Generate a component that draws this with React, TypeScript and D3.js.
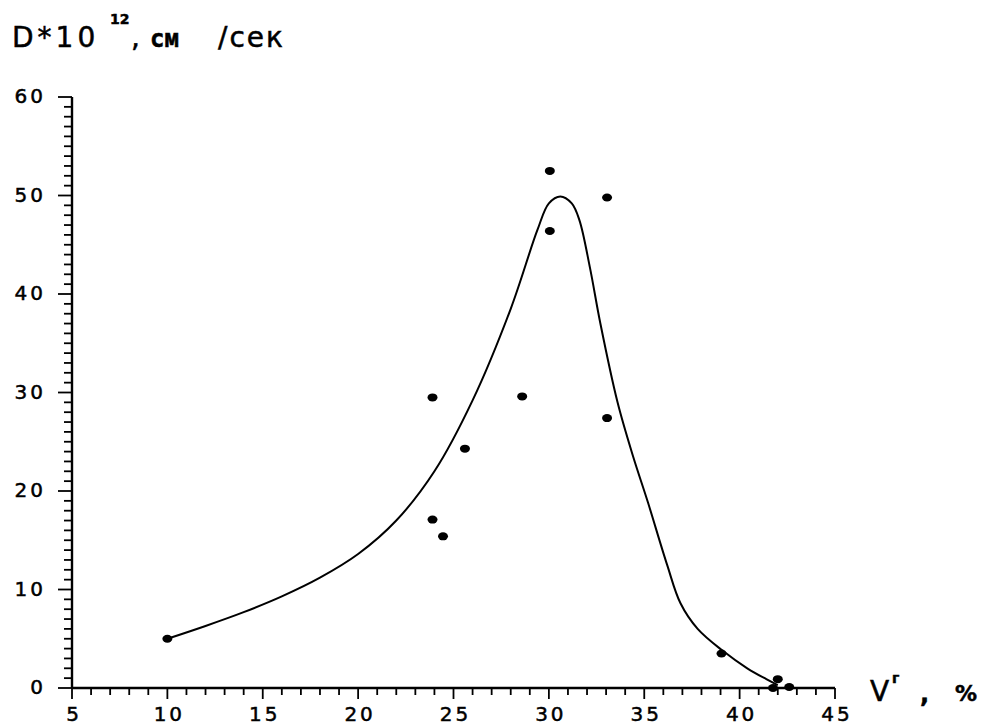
import React, { useEffect, useRef } from 'react';
import * as d3 from 'd3';

// measured points (V, D)
const pointV = [10, 23.9, 23.9, 24.45, 25.6, 28.6, 30.05, 30.05, 33.05, 33.05, 39.05, 42, 41.75, 42.6];
const pointD = [5, 29.5, 17.1, 15.4, 24.3, 29.6, 52.5, 46.4, 49.8, 27.4, 3.5, 0.9, 0, 0.1];

// fitted curve
const curveV = [10, 12, 14, 16, 18, 20, 22, 24, 26, 28, 29.4, 30, 30.6, 31.2, 31.6, 32.15, 32.7, 33.6, 34.4, 35.2, 36.2, 36.9, 37.8, 39.1, 40.4, 41.4, 42];
const curveD = [5, 6.3, 7.7, 9.3, 11.2, 13.6, 17, 22, 29.2, 38.5, 46.5, 49.2, 49.9, 49.2, 47.5, 42.7, 37, 29, 23.6, 18.8, 12.5, 8.6, 6.0, 3.8, 2.0, 0.9, 0.3];

const xTickLabels = [5, 10, 15, 20, 25, 30, 35, 40, 45];
const yTickLabels = [0, 10, 20, 30, 40, 50, 60];

function DiffusionChart() {
  const ref = useRef<SVGSVGElement | null>(null);

  useEffect(() => {
    const el = ref.current;
    if (!el) return;
    const svg = d3.select(el);
    svg.selectAll('*').remove();

    const x = d3.scaleLinear().domain([5, 45]).range([72, 835]);
    const y = d3.scaleLinear().domain([0, 60]).range([688, 97]);
    const labelFont = '"DejaVu Sans", sans-serif';

    // y axis
    svg.append('line')
      .attr('x1', x(5)).attr('x2', x(5))
      .attr('y1', y(0)).attr('y2', y(60))
      .attr('stroke', '#000').attr('stroke-width', 2.4);

    svg.selectAll('.ytick')
      .data(d3.range(0, 61, 1))
      .join('line')
      .attr('x1', (d) => (d % 10 === 0 ? x(5) - 14 : x(5) - 8))
      .attr('x2', x(5))
      .attr('y1', (d) => y(d)).attr('y2', (d) => y(d))
      .attr('stroke', '#000').attr('stroke-width', 1.8);

    svg.selectAll('.ylabel')
      .data(yTickLabels)
      .join('text')
      .attr('x', 46)
      .attr('y', (d) => y(d) + 6)
      .attr('text-anchor', 'end')
      .style('font-family', labelFont)
      .style('font-size', '20px')
      .style('stroke', '#000')
      .style('stroke-width', 0.5)
      .style('letter-spacing', '3px')
      .text((d) => d);

    // x axis
    svg.append('line')
      .attr('x1', x(5)).attr('x2', x(45))
      .attr('y1', y(0)).attr('y2', y(0))
      .attr('stroke', '#000').attr('stroke-width', 2.4);

    svg.selectAll('.xtick')
      .data(d3.range(5, 46, 1))
      .join('line')
      .attr('x1', (d) => x(d)).attr('x2', (d) => x(d))
      .attr('y1', y(0))
      .attr('y2', (d) => (d % 5 === 0 ? y(0) + 11 : y(0) + 7))
      .attr('stroke', '#000').attr('stroke-width', 1.8);

    svg.selectAll('.xlabel')
      .data(xTickLabels)
      .join('text')
      .attr('x', (d) => x(d) + 2)
      .attr('y', 721)
      .attr('text-anchor', 'middle')
      .style('font-family', labelFont)
      .style('font-size', '20px')
      .style('stroke', '#000')
      .style('stroke-width', 0.5)
      .style('letter-spacing', '3px')
      .text((d) => d);

    // fitted curve
    const line = d3.line<number>()
      .x((d, i) => x(curveV[i]))
      .y((d) => y(d))
      .curve(d3.curveCatmullRom.alpha(0.5));

    svg.append('path')
      .datum(curveD)
      .attr('d', line)
      .attr('fill', 'none')
      .attr('stroke', '#000')
      .attr('stroke-width', 2);

    // points
    svg.selectAll('.pt')
      .data(pointD)
      .join('ellipse')
      .attr('cx', (d, i) => x(pointV[i]))
      .attr('cy', (d) => y(d))
      .attr('rx', 5)
      .attr('ry', 4)
      .attr('fill', '#000');

    // y title
    const title = svg.append('g').style('font-family', labelFont)
      .style('stroke', '#000').style('stroke-width', 0.5);
    title.append('text').attr('x', 12).attr('y', 47)
      .style('font-size', '28px').style('letter-spacing', '4px').text('D*10');
    title.append('text').attr('x', 110).attr('y', 24)
      .style('font-size', '14px').style('font-weight', 'bold').text('12');
    title.append('text').attr('x', 131).attr('y', 47)
      .style('font-size', '28px').text(',');
    title.append('text').attr('x', 150).attr('y', 47)
      .style('font-family', '"DejaVu Sans Mono", monospace')
      .style('font-size', '24px').style('font-weight', 'bold').text('см');
    title.append('text').attr('x', 218).attr('y', 47)
      .style('font-size', '28px').style('letter-spacing', '2px').text('/сек');

    // x title
    const xt = svg.append('g').style('font-family', labelFont)
      .style('stroke', '#000').style('stroke-width', 0.5);
    xt.append('text').attr('x', 870).attr('y', 701)
      .style('font-size', '28px').text('V');
    xt.append('text').attr('x', 892).attr('y', 683)
      .style('font-size', '14px').style('font-weight', 'bold').text('г');
    xt.append('text').attr('x', 920).attr('y', 702)
      .style('font-size', '24px').style('font-weight', 'bold').text(',');
    xt.append('text').attr('x', 955).attr('y', 701)
      .style('font-size', '22px').style('font-weight', 'bold').text('%');
  }, []);

  return (
    <svg
      ref={ref}
      width={985}
      height={725}
      style={{ position: 'absolute', left: 0, top: 0, background: '#fff' }}
    />
  );
}

export default function App() {
  return <DiffusionChart />;
}
